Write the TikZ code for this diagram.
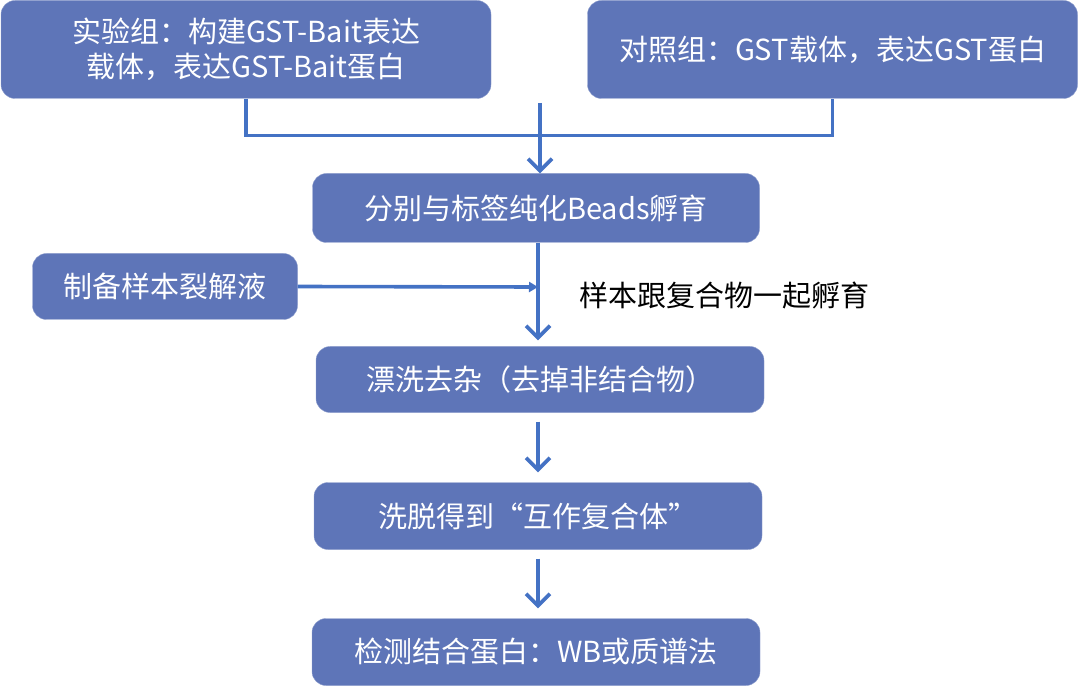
\documentclass[tikz,border=0pt]{standalone}
\usepackage{fontspec}
\setmainfont{Noto Sans CJK SC}
\usetikzlibrary{arrows.meta}
\definecolor{boxblue}{RGB}{94,117,184}
\definecolor{lineblue}{RGB}{68,114,196}
\tikzset{box/.style={draw=boxblue!70!white,fill=boxblue,rounded corners=14pt,text=white,align=center,inner sep=0pt,font=\fontsize{29}{35}\selectfont},
ln/.style={draw=lineblue,line width=3.6pt},arr/.style={ln,-{Straight Barb[length=12pt,width=24pt]}}}
\begin{document}
\begin{tikzpicture}[x=1pt,y=-1pt]
\useasboundingbox(0,0)rectangle(1080,687);
\node[box,minimum width=490pt,minimum height=98pt](exp)at(246,49.5){实验组：构建GST-Bait表达\\载体，表达GST-Bait蛋白};
\node[box,minimum width=490pt,minimum height=98pt](ctl)at(832.5,49.5){对照组：GST载体，表达GST蛋白};
\node[box,minimum width=447pt,minimum height=69pt](bead)at(536,208){分别与标签纯化Beads孵育};
\node[box,minimum width=265pt,minimum height=66pt](lys)at(165,286.5){制备样本裂解液};
\node[box,minimum width=448pt,minimum height=66pt](wash)at(540,379.5){漂洗去杂（去掉非结合物）};
\node[box,minimum width=448pt,minimum height=67pt](elu)at(538,516){洗脱得到“互作复合体”};
\node[box,minimum width=448pt,minimum height=67pt](det)at(536,652){检测结合蛋白：WB或质谱法};
\node[anchor=west,font=\fontsize{29}{35}\selectfont](lbl)at(576,295){样本跟复合物一起孵育};
\coordinate(top)at(540,103);\coordinate(mid)at(538,287);
\draw[ln](exp.south)--++(0,37)-|(ctl.south);
\draw[arr](top)--(bead.north-|top);
\draw[ln,-{Triangle[length=9pt,width=10pt]}](lys.east)--(mid);
\draw[arr,shorten >=6pt](bead.south-|mid)--(wash.north-|mid);
\foreach\a/\b in{wash/elu,elu/det}\draw[arr,shorten <=9pt,shorten >=10pt](\a.south-|mid)--(\b.north-|mid);
\end{tikzpicture}
\end{document}
